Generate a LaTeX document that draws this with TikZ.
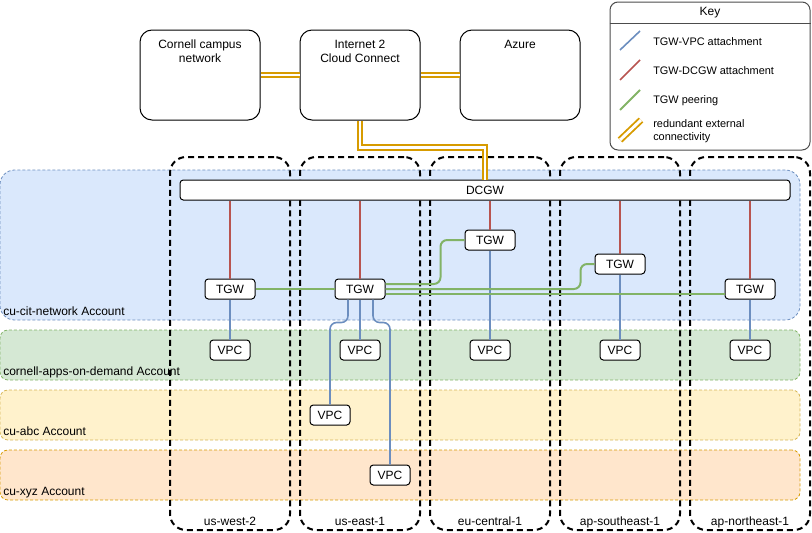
\documentclass[tikz,border=0pt]{standalone}
\usepackage{fontspec}
\setmainfont{Liberation Sans}
\usetikzlibrary{positioning}

\definecolor{blueF}{HTML}{DAE8FC}
\definecolor{blueD}{HTML}{6C8EBF}
\definecolor{greenF}{HTML}{D5E8D4}
\definecolor{greenD}{HTML}{82B366}
\definecolor{yellowF}{HTML}{FFF2CC}
\definecolor{yellowD}{HTML}{D6B656}
\definecolor{orangeF}{HTML}{FFE6CC}
\definecolor{orangeD}{HTML}{D79B00}
\definecolor{redD}{HTML}{B85450}

\begin{document}
\begin{tikzpicture}[x=0.75pt, y=-0.75pt,
        every node/.style={font=\fontsize{9}{10.5}\selectfont},
        bigbox/.style={draw, line width=0.75pt, rounded corners=9pt, fill=white, minimum width=90pt, minimum height=67.5pt, inner sep=0pt},
        acct/.style={draw, dash pattern=on 2.25pt off 1.5pt, line width=0.6pt, rounded corners=6pt, inner sep=0pt, minimum width=600pt, minimum height=37.5pt},
        region/.style={draw, line width=1.5pt, dash pattern=on 4.5pt off 3pt, rounded corners=12pt, minimum width=90pt, minimum height=279.75pt, inner sep=0pt},
        gw/.style={draw, line width=0.75pt, rounded corners=2.5pt, fill=white, minimum width=37.5pt, minimum height=15pt, inner sep=0pt},
        vpc/.style={gw, minimum width=30pt},
        vpclink/.style={draw=blueD, line width=1.2pt, rounded corners=5pt},
        dcgwlink/.style={draw=redD, line width=1.2pt},
        peer/.style={draw=greenD, line width=1.5pt, rounded corners=5pt},
        extlink/.style={draw=orangeD, line width=1.4pt, double=white, double distance=2.2pt},
        keytext/.style={font=\fontsize{8.2}{9.75}\selectfont, anchor=west, align=left, inner sep=0pt}
      ]
      \useasboundingbox (0,0) rectangle (812,532);

      % account bands
      \node[acct, fill=blueF, draw=blueD, minimum height=112.5pt, rounded corners=11pt] (cit) at (400,245) {};
      \node[acct, fill=greenF, draw=greenD] (apps) at (400,355) {};
      \node[acct, fill=yellowF, draw=yellowD] (abc) at (400,415) {};
      \node[acct, fill=orangeF, draw=orangeD] (xyz) at (400,475) {};
      \node[anchor=base west, inner sep=0pt] (citlbl) at (3,315) {cu-cit-network Account};
      \node[anchor=base west, inner sep=0pt] (appslbl) at (3,375) {cornell-apps-on-demand Account};
      \node[anchor=base west, inner sep=0pt] (abclbl) at (3,435) {cu-abc Account};
      \node[anchor=base west, inner sep=0pt] (xyzlbl) at (3,495) {cu-xyz Account};

      % regions
      \foreach \cx/\nm/\lbl in {230/usw/us-west-2, 360/use/us-east-1, 490/euc/eu-central-1, 620/apse/ap-southeast-1, 750/apne/ap-northeast-1}{
        \node[region] (\nm) at (\cx,343.5) {};
        \node[anchor=base, inner sep=0pt] (\nm lbl) at (\cx,525) {\lbl};
      }

      % gateways and VPCs
      \node[gw, minimum width=457.5pt] (dcgw) at (485,190) {DCGW};
      \node[gw] (tgwusw) at (230,289) {TGW};
      \node[gw] (tgwuse) at (360,289) {TGW};
      \node[gw] (tgweuc) at (490,240) {TGW};
      \node[gw] (tgwapse) at (620,264) {TGW};
      \node[gw] (tgwapne) at (750,289) {TGW};
      \node[vpc] (vpcusw) at (230,350) {VPC};
      \node[vpc] (vpcuse) at (360,350) {VPC};
      \node[vpc] (vpceuc) at (490,350) {VPC};
      \node[vpc] (vpcapse) at (620,350) {VPC};
      \node[vpc] (vpcapne) at (750,350) {VPC};
      \node[vpc] (vpcabc) at (330,415) {VPC};
      \node[vpc] (vpcxyz) at (390,475) {VPC};

      % TGW-DCGW
      \foreach \t in {tgwusw, tgwuse, tgweuc, tgwapse, tgwapne}
        \draw[dcgwlink] (\t.north) -- (\t.north |- dcgw.south);

      % TGW-VPC
      \draw[vpclink] (tgwusw) -- (vpcusw);
      \draw[vpclink] (tgwuse) -- (vpcuse);
      \draw[vpclink] (tgweuc) -- (vpceuc);
      \draw[vpclink] (tgwapse) -- (vpcapse);
      \draw[vpclink] (tgwapne) -- (vpcapne);
      \draw[vpclink] ([xshift=-9pt]tgwuse.south) -- ++(0,23) -| (vpcabc.north);
      \draw[vpclink] ([xshift=9.75pt]tgwuse.south) -- ++(0,23) -| (vpcxyz.north);

      % TGW peering
      \draw[peer] (tgwusw) -- (tgwuse);
      \draw[peer] ([yshift=3.75pt]tgwuse.east) -- ++(55,0) |- (tgweuc.west);
      \draw[peer] (tgwuse.east) -- ++(195,0) |- (tgwapse.west);
      \draw[peer] ([yshift=-4pt]tgwuse.east) -- ([yshift=-4pt]tgwapne.west);

      % external sites
      \node[bigbox] (campus) at (200,75) {};
      \node[bigbox] (i2) at (360,75) {};
      \node[bigbox] (azure) at (520,75) {};
      \node[anchor=north, inner sep=0pt, align=center] (campuslbl) at ([yshift=-7.5pt]campus.north) {Cornell campus\\network};
      \node[anchor=north, inner sep=0pt, align=center] (i2lbl) at ([yshift=-7.5pt]i2.north) {Internet 2\\Cloud Connect};
      \node[anchor=north, inner sep=0pt, align=center] (azurelbl) at ([yshift=-7.5pt]azure.north) {Azure};
      \draw[extlink] (campus) -- (i2);
      \draw[extlink] (i2) -- (azure);
      \draw[extlink] (i2.south) -- ++(0,27) -| (dcgw.north);

      % key
      \node[draw=black!70, line width=0.75pt, rounded corners=6pt, minimum width=150pt, minimum height=111pt, inner sep=0pt] (key) at (710,76) {};
      \node (keylbl) at (710,12.5) {Key};
      \draw[black!70, line width=0.75pt] (key.west |- 0,23) -- (key.east |- 0,23);
      \draw[vpclink] (620,50) -- (640,31);
      \draw[dcgwlink] (620,80) -- (640,60);
      \draw[peer] (620,110) -- (640,90);
      \draw[extlink] (620,140) -- (641,120);
      \node[keytext] (k1) at (653,42) {TGW-VPC attachment};
      \node[keytext] (k2) at (653,71) {TGW-DCGW attachment};
      \node[keytext] (k3) at (653,101) {TGW peering};
      \node[keytext] (k4) at (653,131) {redundant external\\connectivity};
    \end{tikzpicture}
\end{document}
